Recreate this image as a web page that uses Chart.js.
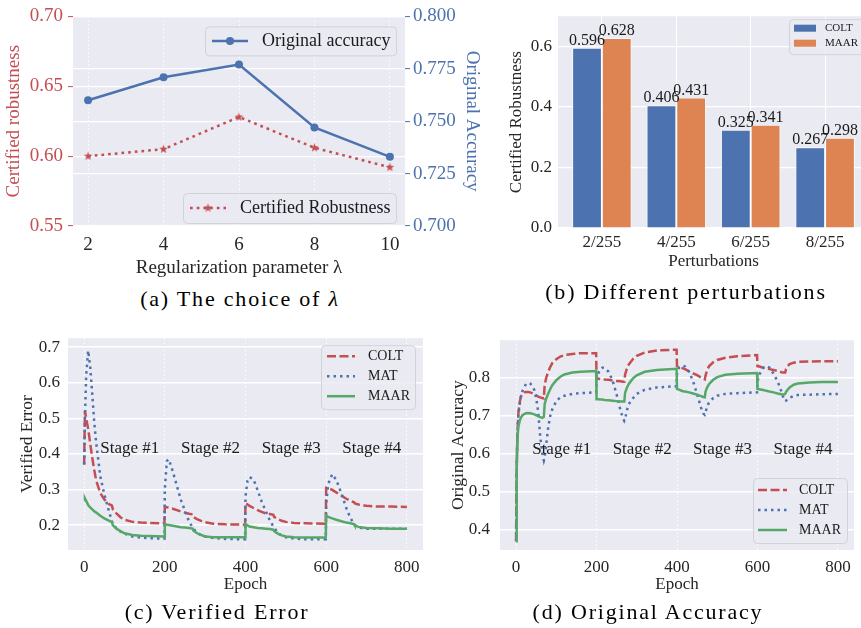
<!DOCTYPE html>
<html>
<head>
<meta charset="utf-8">
<script src="https://cdn.jsdelivr.net/npm/chart.js@4.4.1/dist/chart.umd.min.js"></script>
<style>
  html, body { margin: 0; padding: 0; background: #fff; width: 861px; height: 628px; overflow: hidden; }
  canvas { position: absolute; }
  .cap { position: absolute; font-family: 'Liberation Serif', 'Times New Roman', serif; font-size: 22px;
         line-height: 24px; letter-spacing: 1.8px; color: #000; white-space: nowrap; transform: translateX(-50%); }
</style>
</head>
<body>
<canvas id="ca" width="490" height="280" style="left:0;top:0"></canvas>
<canvas id="cb" width="370" height="280" style="left:500px;top:0"></canvas>
<canvas id="cc" width="430" height="280" style="left:0;top:320px"></canvas>
<canvas id="cd" width="431" height="280" style="left:430px;top:320px"></canvas>
<div class="cap" style="left:240px;top:287px">(a) The choice of <i>λ</i></div>
<div class="cap" style="left:686px;top:280px">(b) Different perturbations</div>
<div class="cap" style="left:217px;top:600px">(c) Verified Error</div>
<div class="cap" style="left:648px;top:600px">(d) Original Accuracy</div>
<script>
// (a) choice of lambda
const lambdas = [2, 4, 6, 8, 10];
const origAcc = [0.760, 0.771, 0.777, 0.747, 0.733];
const certRob = [0.600, 0.605, 0.628, 0.606, 0.592];
const aLeftTicks = [0.55, 0.60, 0.65, 0.70];
const aRightTicks = [0.700, 0.725, 0.750, 0.775, 0.800];

// (b) perturbations
const perturbations = ['2/255', '4/255', '6/255', '8/255'];
const coltRob = [0.596, 0.406, 0.325, 0.267];
const maarRob = [0.628, 0.431, 0.341, 0.298];
const bTicks = [0.0, 0.2, 0.4, 0.6];

// (c) verified error
const errEpochs = [0, 2, 5, 10, 15, 20, 25, 30, 40, 50, 60, 69, 71, 80, 90, 100, 120, 140, 160, 199,
  200, 205, 210, 220, 230, 240, 250, 260, 269, 271, 280, 290, 300, 320, 350, 399,
  400, 405, 410, 420, 430, 440, 450, 460, 469, 471, 480, 490, 500, 520, 550, 599,
  600, 605, 615, 625, 640, 650, 660, 669, 671, 680, 690, 700, 730, 760, 800];
const errColt = [0.37, 0.52, 0.50, 0.47, 0.43, 0.39, 0.355, 0.325, 0.29, 0.272, 0.26, 0.255, 0.245, 0.233, 0.222, 0.215, 0.209, 0.207, 0.206, 0.205,
  0.25, 0.25, 0.249, 0.246, 0.242, 0.238, 0.235, 0.232, 0.23, 0.222, 0.217, 0.212, 0.208, 0.204, 0.202, 0.201,
  0.262, 0.258, 0.254, 0.248, 0.242, 0.237, 0.233, 0.231, 0.229, 0.223, 0.217, 0.212, 0.209, 0.206, 0.205, 0.204,
  0.305, 0.305, 0.299, 0.292, 0.281, 0.274, 0.268, 0.264, 0.261, 0.258, 0.255, 0.254, 0.252, 0.252, 0.251];
const errMat = [0.37, 0.50, 0.62, 0.69, 0.645, 0.57, 0.49, 0.43, 0.337, 0.287, 0.245, 0.21, 0.205, 0.19, 0.182, 0.176, 0.168, 0.165, 0.163, 0.162,
  0.30, 0.38, 0.385, 0.35, 0.31, 0.27, 0.24, 0.21, 0.193, 0.19, 0.178, 0.172, 0.168, 0.164, 0.161, 0.16,
  0.28, 0.325, 0.335, 0.328, 0.298, 0.266, 0.24, 0.214, 0.196, 0.193, 0.178, 0.17, 0.166, 0.162, 0.16, 0.16,
  0.26, 0.315, 0.343, 0.327, 0.282, 0.247, 0.22, 0.203, 0.2, 0.194, 0.191, 0.19, 0.19, 0.19, 0.19];
const errMaar = [0.27, 0.275, 0.268, 0.256, 0.25, 0.244, 0.239, 0.235, 0.226, 0.219, 0.213, 0.208, 0.2, 0.19, 0.183, 0.177, 0.172, 0.17, 0.169, 0.168,
  0.203, 0.201, 0.2, 0.198, 0.196, 0.194, 0.193, 0.192, 0.19, 0.184, 0.177, 0.172, 0.168, 0.166, 0.166, 0.166,
  0.203, 0.199, 0.196, 0.194, 0.192, 0.191, 0.19, 0.189, 0.187, 0.183, 0.176, 0.171, 0.168, 0.166, 0.165, 0.165,
  0.227, 0.223, 0.219, 0.215, 0.21, 0.207, 0.205, 0.203, 0.199, 0.195, 0.193, 0.192, 0.191, 0.19, 0.19];
const errTicks = [0.2, 0.3, 0.4, 0.5, 0.6, 0.7];

// (d) original accuracy
const accEpochs = [0, 1, 2, 4, 6, 9, 12, 16, 20, 25, 30, 35, 40, 45, 50, 55, 60, 65, 69, 71, 75, 80, 85, 90, 100, 110, 120, 140, 160, 199,
  200, 205, 210, 215, 220, 230, 240, 250, 260, 265, 269, 271, 275, 280, 290, 300, 320, 350, 399,
  400, 405, 410, 415, 420, 430, 440, 450, 460, 465, 469, 471, 475, 480, 490, 500, 520, 550, 599,
  600, 605, 610, 615, 622, 630, 640, 650, 660, 665, 669, 671, 675, 680, 690, 700, 730, 760, 800];
const accColt = [0.37, 0.52, 0.60, 0.67, 0.71, 0.735, 0.75, 0.757, 0.761, 0.762, 0.762, 0.761, 0.759, 0.756, 0.753, 0.75, 0.748, 0.746, 0.745, 0.78, 0.80, 0.815, 0.828, 0.838, 0.848, 0.855, 0.859, 0.862, 0.864, 0.864,
  0.797, 0.797, 0.796, 0.796, 0.795, 0.794, 0.792, 0.791, 0.79, 0.789, 0.789, 0.808, 0.822, 0.834, 0.848, 0.857, 0.866, 0.871, 0.873,
  0.83, 0.828, 0.826, 0.824, 0.822, 0.816, 0.811, 0.806, 0.8, 0.797, 0.795, 0.805, 0.82, 0.83, 0.84, 0.846, 0.852, 0.856, 0.859,
  0.83, 0.829, 0.827, 0.826, 0.824, 0.822, 0.82, 0.817, 0.814, 0.813, 0.813, 0.822, 0.83, 0.835, 0.839, 0.841, 0.842, 0.843, 0.843];
const accMat = [0.37, 0.5, 0.6, 0.67, 0.705, 0.73, 0.75, 0.765, 0.775, 0.783, 0.786, 0.784, 0.779, 0.768, 0.745, 0.71, 0.645, 0.6, 0.582, 0.59, 0.625, 0.67, 0.7, 0.717, 0.738, 0.748, 0.752, 0.757, 0.759, 0.761,
  0.79, 0.812, 0.822, 0.826, 0.825, 0.815, 0.792, 0.755, 0.712, 0.695, 0.686, 0.69, 0.712, 0.73, 0.745, 0.757, 0.768, 0.774, 0.777,
  0.81, 0.826, 0.83, 0.831, 0.829, 0.815, 0.79, 0.756, 0.72, 0.706, 0.702, 0.708, 0.725, 0.735, 0.746, 0.752, 0.757, 0.759, 0.761,
  0.79, 0.808, 0.818, 0.826, 0.83, 0.826, 0.81, 0.79, 0.762, 0.745, 0.738, 0.739, 0.744, 0.747, 0.751, 0.754, 0.755, 0.756, 0.757];
const accMaar = [0.37, 0.48, 0.56, 0.65, 0.672, 0.686, 0.695, 0.701, 0.704, 0.706, 0.707, 0.706, 0.705, 0.703, 0.701, 0.698, 0.696, 0.694, 0.697, 0.73, 0.745, 0.758, 0.77, 0.78, 0.793, 0.802, 0.808, 0.813, 0.815, 0.817,
  0.743, 0.743, 0.742, 0.742, 0.741, 0.74, 0.739, 0.738, 0.737, 0.737, 0.737, 0.76, 0.772, 0.783, 0.797, 0.806, 0.815, 0.82, 0.823,
  0.77, 0.768, 0.766, 0.764, 0.763, 0.761, 0.758, 0.755, 0.751, 0.749, 0.748, 0.763, 0.774, 0.783, 0.794, 0.801, 0.807, 0.81, 0.812,
  0.77, 0.769, 0.768, 0.767, 0.765, 0.763, 0.761, 0.758, 0.756, 0.755, 0.757, 0.762, 0.768, 0.774, 0.781, 0.784, 0.787, 0.788, 0.788];
const accTicks = [0.4, 0.5, 0.6, 0.7, 0.8];

const epochTicks = [0, 200, 400, 600, 800];
const stageNames = ['Stage #1', 'Stage #2', 'Stage #3', 'Stage #4'];
const stageStart = [40, 240, 440, 640];

const SERIF = "'Liberation Serif', 'Times New Roman', serif";
const BLUE = '#4C72B0', ORANGE = '#DD8452', GREEN = '#55A868', RED = '#C44E52';
const TXT = '#262626';
const f = size => ({ family: SERIF, size: size });
const pts = (xs, ys) => xs.map((x, i) => ({ x: x, y: ys[i] }));
const fixTicks = arr => s => { s.ticks = arr.map(v => ({ value: v })); };

function starImage(color, r) {
  const c = document.createElement('canvas');
  const s = Math.ceil(r * 2 + 2);
  c.width = s; c.height = s;
  const g = c.getContext('2d');
  g.fillStyle = color;
  g.beginPath();
  for (let k = 0; k < 10; k++) {
    const rad = k % 2 ? r * 0.42 : r;
    const ang = -Math.PI / 2 + k * Math.PI / 5;
    g.lineTo(s / 2 + rad * Math.cos(ang), s / 2 + rad * Math.sin(ang));
  }
  g.closePath();
  g.fill();
  return c;
}

// axes background
const bgPlugin = {
  id: 'bg',
  beforeDraw(chart) {
    const { ctx, chartArea: a } = chart;
    ctx.save();
    ctx.fillStyle = '#EAEAF2';
    ctx.fillRect(a.left, a.top, a.right - a.left, a.bottom - a.top);
    ctx.restore();
  }
};

// matplotlib-like legend boxes inside the axes
const boxLegend = {
  id: 'boxLegend',
  afterDraw(chart, args, opts) {
    const { ctx, chartArea: a } = chart;
    (opts.boxes || []).forEach(b => {
      const left = a.right - b.right - b.w;
      const top = b.top !== undefined ? a.top + b.top : a.bottom - b.bottom - b.h;
      ctx.save();
      ctx.beginPath();
      ctx.roundRect(left + 0.5, top + 0.5, b.w, b.h, 4);
      ctx.fillStyle = 'rgba(234,234,242,0.8)';
      ctx.fill();
      ctx.strokeStyle = '#d2d2d9';
      ctx.lineWidth = 1;
      ctx.stroke();
      ctx.font = b.size + 'px ' + SERIF;
      ctx.textBaseline = 'middle';
      ctx.textAlign = 'left';
      b.items.forEach((di, k) => {
        const ds = chart.data.datasets[di];
        const cy = top + b.row0 + k * b.rowH;
        const x0 = left + b.pad, x1 = x0 + b.len;
        if (b.patch) {
          ctx.fillStyle = ds.backgroundColor;
          ctx.fillRect(x0, cy - b.ph / 2, b.len, b.ph);
        } else {
          ctx.beginPath();
          ctx.setLineDash(ds.borderDash || []);
          ctx.strokeStyle = ds.borderColor;
          ctx.lineWidth = ds.borderWidth;
          ctx.moveTo(x0, cy);
          ctx.lineTo(x1, cy);
          ctx.stroke();
          ctx.setLineDash([]);
          if (ds.pointRadius) {
            const mx = (x0 + x1) / 2;
            if (typeof ds.pointStyle === 'object') {
              ctx.drawImage(ds.pointStyle, mx - ds.pointStyle.width / 2, cy - ds.pointStyle.height / 2);
            } else {
              ctx.beginPath();
              ctx.arc(mx, cy, ds.pointRadius, 0, Math.PI * 2);
              ctx.fillStyle = ds.backgroundColor;
              ctx.fill();
            }
          }
        }
        ctx.fillStyle = '#1a1a1a';
        ctx.fillText(ds.label, x1 + b.gap, cy);
      });
      ctx.restore();
    });
  }
};

const barLabels = {
  id: 'barLabels',
  afterDatasetsDraw(chart) {
    const { ctx } = chart;
    ctx.save();
    ctx.font = '16px ' + SERIF;
    ctx.fillStyle = '#1a1a1a';
    ctx.textAlign = 'center';
    ctx.textBaseline = 'alphabetic';
    chart.data.datasets.forEach((ds, di) => {
      chart.getDatasetMeta(di).data.forEach((bar, i) => {
        ctx.fillText(ds.data[i].y.toFixed(3), bar.x, bar.y - 3);
      });
    });
    ctx.restore();
  }
};

const stageLabels = {
  id: 'stageLabels',
  afterDatasetsDraw(chart, args, opts) {
    const { ctx, scales } = chart;
    ctx.save();
    ctx.font = '17px ' + SERIF;
    ctx.fillStyle = '#1a1a1a';
    ctx.textAlign = 'left';
    ctx.textBaseline = 'middle';
    stageNames.forEach((s, i) => {
      ctx.fillText(s, scales.x.getPixelForValue(stageStart[i]), scales.y.getPixelForValue(opts.y));
    });
    ctx.restore();
  }
};

const noPlug = { legend: { display: false }, tooltip: { enabled: false } };
const vGrid = { color: '#ffffff', lineWidth: 1, drawTicks: false, borderDash: [1.5, 2.5] };
const vBorder = { display: false, dash: [1.5, 2.5] };

// (a)
new Chart(document.getElementById('ca'), {
  type: 'line',
  data: {
    datasets: [
      { label: 'Original accuracy', data: pts(lambdas, origAcc), yAxisID: 'y1', borderColor: BLUE, backgroundColor: BLUE,
        borderWidth: 2.5, pointRadius: 4, pointBorderWidth: 0, pointStyle: 'circle', tension: 0 },
      { label: 'Certified Robustness', data: pts(lambdas, certRob), yAxisID: 'y', borderColor: RED, backgroundColor: RED,
        borderWidth: 2.5, borderDash: [2.7, 4], pointRadius: 4, pointStyle: starImage(RED, 4.5), tension: 0 }
    ]
  },
  options: {
    responsive: false, animation: false,
    layout: { padding: { top: 11, right: 0, bottom: 0, left: 0 } },
    plugins: Object.assign({}, noPlug, {
      boxLegend: { boxes: [
        { items: [0], right: 9, top: 10, w: 191, h: 29, row0: 14.5, rowH: 0, pad: 7, len: 36, gap: 14, size: 18 },
        { items: [1], right: 9, bottom: 3, w: 213, h: 30, row0: 15, rowH: 0, pad: 7, len: 36, gap: 14, size: 18 }
      ] }
    }),
    scales: {
      x: { type: 'linear', min: 1.6, max: 10.4, afterBuildTicks: fixTicks(lambdas),
        ticks: { font: f(19), color: TXT, padding: 8, maxRotation: 0 },
        grid: vGrid, border: vBorder,
        title: { display: true, text: 'Regularization parameter λ', font: f(19), color: TXT, padding: { top: 0, bottom: 1 } },
        afterFit: s => { s.height = 54; } },
      y: { position: 'left', min: 0.55, max: 0.70, afterBuildTicks: fixTicks(aLeftTicks),
        ticks: { font: f(19), color: RED, padding: 5, callback: v => v.toFixed(2) },
        grid: { color: '#ffffff', lineWidth: 1.2, tickColor: RED, tickLength: 5, tickWidth: 1 },
        border: { display: false },
        title: { display: true, text: 'Certified robustness', font: f(19), color: RED, padding: { top: 3, bottom: 0 } },
        afterFit: s => { s.width = 73; } },
      y1: { position: 'right', min: 0.70, max: 0.80, afterBuildTicks: fixTicks(aRightTicks),
        ticks: { font: f(19), color: BLUE, padding: 3, callback: v => v.toFixed(3) },
        grid: { color: '#ffffff', lineWidth: 1.2, tickColor: BLUE, tickLength: 5, tickWidth: 1 },
        border: { display: false },
        title: { display: true, text: 'Original Accuracy', font: f(19), color: BLUE, padding: { top: 6.6, bottom: 0 } },
        afterFit: s => { s.width = 85; } }
    }
  },
  plugins: [bgPlugin, boxLegend]
});

// (b)
new Chart(document.getElementById('cb'), {
  type: 'bar',
  data: {
    datasets: [
      { label: 'COLT', data: pts(perturbations.map((p, i) => i), coltRob), backgroundColor: BLUE,
        borderColor: 'rgba(255,255,255,0.7)', borderWidth: 1, categoryPercentage: 0.8, barPercentage: 1.0 },
      { label: 'MAAR', data: pts(perturbations.map((p, i) => i), maarRob), backgroundColor: ORANGE,
        borderColor: 'rgba(255,255,255,0.7)', borderWidth: 1, categoryPercentage: 0.8, barPercentage: 1.0 }
    ]
  },
  options: {
    responsive: false, animation: false,
    layout: { padding: { top: 13, right: 1, bottom: 0, left: 0 } },
    plugins: Object.assign({}, noPlug, {
      boxLegend: { boxes: [
        { items: [0, 1], patch: true, right: 4, top: 3, w: 76, h: 35, row0: 9, rowH: 15, pad: 5, len: 22, ph: 7, gap: 9, size: 11 }
      ] }
    }),
    scales: {
      x: { type: 'linear', min: -0.59, max: 3.59, offset: false, afterBuildTicks: fixTicks(perturbations.map((p, i) => i)),
        ticks: { font: f(17), color: TXT, padding: 4, maxRotation: 0, callback: (v, i) => perturbations[i] },
        grid: { color: '#ffffff', lineWidth: 1, drawTicks: false, offset: false },
        border: { display: false },
        title: { display: true, text: 'Perturbations', font: f(17), color: TXT, padding: { top: 0, bottom: 8 } },
        afterFit: s => { s.height = 52; } },
      y: { min: 0, max: 0.7, afterBuildTicks: fixTicks(bTicks),
        ticks: { font: f(17), color: TXT, padding: 6, callback: v => v.toFixed(1) },
        grid: { color: '#ffffff', lineWidth: 1.2, drawTicks: false },
        border: { display: false },
        title: { display: true, text: 'Certified Robustness', font: f(17), color: TXT, padding: { top: 6.8, bottom: 0 } },
        afterFit: s => { s.width = 58; } }
    }
  },
  plugins: [bgPlugin, barLabels, boxLegend]
});

// (c) and (d) share the same look
function epochChart(id, epochs, colt, mat, maar, yOpts, yWidth, legendBox, stageY) {
  return new Chart(document.getElementById(id), {
    type: 'line',
    data: {
      datasets: [
        { label: 'COLT', data: pts(epochs, colt), borderColor: RED, backgroundColor: RED, borderWidth: 2.5,
          borderDash: [9, 3.5], pointRadius: 0, tension: 0, order: 2 },
        { label: 'MAT', data: pts(epochs, mat), borderColor: BLUE, backgroundColor: BLUE, borderWidth: 2.5,
          borderDash: [2.5, 4], pointRadius: 0, tension: 0, order: 1 },
        { label: 'MAAR', data: pts(epochs, maar), borderColor: GREEN, backgroundColor: GREEN, borderWidth: 2.5,
          pointRadius: 0, tension: 0, order: 0 }
      ]
    },
    options: {
      responsive: false, animation: false,
      layout: { padding: { top: 15, right: 7, bottom: 0, left: 0 } },
      plugins: Object.assign({}, noPlug, {
        boxLegend: { boxes: [legendBox] },
        stageLabels: { y: stageY }
      }),
      scales: {
        x: { type: 'linear', min: -40, max: 840, afterBuildTicks: fixTicks(epochTicks),
          ticks: { font: f(17), color: TXT, padding: 7, maxRotation: 0 },
          grid: vGrid, border: vBorder,
          title: { display: true, text: 'Epoch', font: f(17), color: TXT, padding: { top: 0, bottom: 5 } },
          afterFit: s => { s.height = 50; } },
        y: Object.assign({
          grid: { color: '#ffffff', lineWidth: 1.5, drawTicks: false },
          border: { display: false },
          afterFit: s => { s.width = yWidth; }
        }, yOpts)
      }
    },
    plugins: [bgPlugin, stageLabels, boxLegend]
  });
}

epochChart('cc', errEpochs, errColt, errMat, errMaar, {
  min: 0.13, max: 0.725, afterBuildTicks: fixTicks(errTicks),
  ticks: { font: f(17), color: TXT, padding: 8, callback: v => v.toFixed(1) },
  title: { display: true, text: 'Verified Error', font: f(17.5), color: TXT, padding: { top: 16.5, bottom: 0 } }
}, 68, { items: [0, 1, 2], right: 8, top: 7, w: 94, h: 64, row0: 11, rowH: 20, pad: 6, len: 28, gap: 13, size: 14 }, 0.415);

epochChart('cd', accEpochs, accColt, accMat, accMaar, {
  min: 0.347, max: 0.898, afterBuildTicks: fixTicks(accTicks),
  ticks: { font: f(17), color: TXT, padding: 10, callback: v => v.toFixed(1) },
  title: { display: true, text: 'Original Accuracy', font: f(17.5), color: TXT, padding: { top: 17.5, bottom: 0 } }
}, 70, { items: [0, 1, 2], right: 7, bottom: 7, w: 94, h: 65, row0: 12, rowH: 20, pad: 5, len: 29, gap: 12, size: 14 }, 0.611);
</script>
</body>
</html>
